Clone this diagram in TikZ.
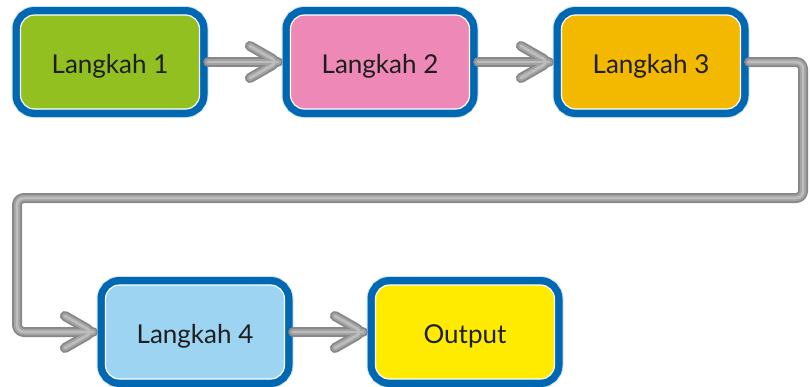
\documentclass[tikz,border=0pt]{standalone}
\usepackage{fontspec}
\setmainfont{Lato}
\definecolor{frameblue}{HTML}{0068B2}
\definecolor{halo}{HTML}{CFE2F1}
\definecolor{cgreen}{HTML}{92C020}
\definecolor{cpink}{HTML}{EE88B6}
\definecolor{corange}{HTML}{F2B900}
\definecolor{clblue}{HTML}{9CD4F2}
\definecolor{cyellow}{HTML}{FFEB00}
\definecolor{pipedark}{HTML}{878787}
\definecolor{pipemid}{HTML}{A2A2A2}
\definecolor{pipelight}{HTML}{BDBDBD}
\definecolor{txt}{HTML}{1E1E1E}
\tikzset{
  stepbox/.style={
    rectangle, rounded corners=14pt,
    minimum width=179pt, minimum height=94pt,
    draw=white, line width=1.2pt, text=txt,
    text height=23pt, text depth=0pt,
    font=\fontsize{26}{30}\selectfont,
    preaction={draw=halo, line width=18pt},
    preaction={draw=frameblue, line width=16pt}
  },
  pipebase/.style={rounded corners=7pt, line cap=round, line join=round},
  pipe/.style={pipebase, draw=pipedark, line width=10pt},
  pipeA/.style={pipebase, draw=pipemid, line width=6.5pt, yshift=1.6pt, xshift=-1.2pt},
  pipeB/.style={pipebase, draw=pipelight, line width=2.8pt, yshift=3.2pt, xshift=-2.4pt},
}
\begin{document}
\begin{tikzpicture}[x=1pt,y=-1pt]
\useasboundingbox (0,0) rectangle (810,386);

\node[stepbox, fill=cgreen]  (s1) at (110,62)  {Langkah 1};
\node[stepbox, fill=cpink]   (s2) at (380,62)  {Langkah 2};
\node[stepbox, fill=corange] (s3) at (651,62)  {Langkah 3};
\node[stepbox, fill=clblue]  (s4) at (195,332) {Langkah 4};
\node[stepbox, fill=cyellow] (s5) at (465,332) {Output};

% arrow tips sit just before the target frames
\coordinate (t2) at ([xshift=-12pt]s2.west);
\coordinate (t3) at ([xshift=-12pt]s3.west);
\coordinate (t4) at ([xshift=-12pt]s4.west);
\coordinate (t5) at ([xshift=-12pt]s5.west);

% turning points of the long return pipe
\coordinate (r1) at (803,62);
\coordinate (r2) at (803,198);
\coordinate (r3) at (17,198);
\coordinate (r4) at (17,332);

\foreach \st in {pipe,pipeA,pipeB}{
  \draw[\st] ([xshift=8pt]s1.east) -- (t2);
  \draw[\st] (t2) ++(-28,-16) -- (t2) -- ++(-28,16);
  \draw[\st] ([xshift=8pt]s2.east) -- (t3);
  \draw[\st] (t3) ++(-28,-16) -- (t3) -- ++(-28,16);
  \draw[\st] ([xshift=8pt]s3.east) -- (r1) -- (r2) -- (r3) -- (r4) -- (t4);
  \draw[\st] (t4) ++(-28,-16) -- (t4) -- ++(-28,16);
  \draw[\st] ([xshift=8pt]s4.east) -- (t5);
  \draw[\st] (t5) ++(-28,-16) -- (t5) -- ++(-28,16);
}
\end{tikzpicture}
\end{document}
